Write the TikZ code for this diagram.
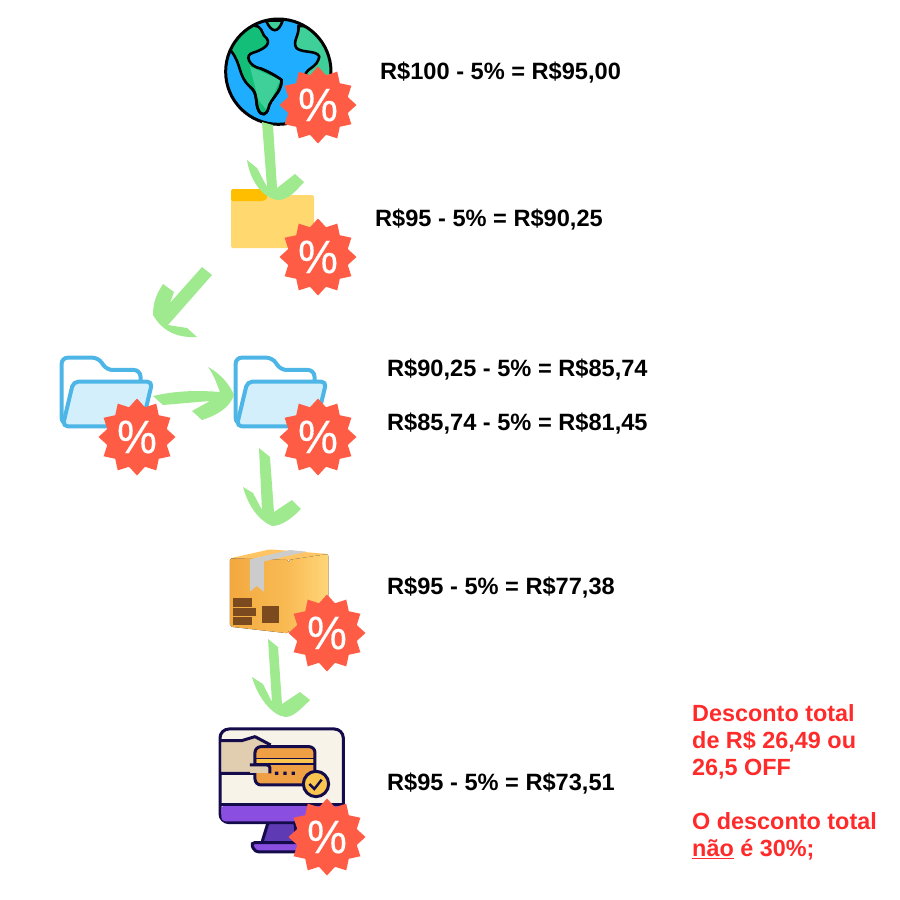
\documentclass[tikz,border=0pt]{standalone}
\usepackage{fontspec}
\setmainfont{Liberation Sans}
\newfontfamily\badgefont[FakeBold=0.3,FakeStretch=0.95]{Liberation Sans}
\usepackage{xcolor}
\usepackage{tikz}
\usetikzlibrary{positioning}
\usetikzlibrary{shapes.geometric}
\definecolor{badgered}{HTML}{FF5C45}
\definecolor{arrowgreen}{HTML}{9FE98F}
\definecolor{saleRed}{HTML}{FF2B2B}
\definecolor{navy}{HTML}{130B4A}
\definecolor{folderblue}{HTML}{4DB6E6}
\definecolor{folderpale}{HTML}{D3EFFC}
\definecolor{oceanblue}{HTML}{1FAEFF}
\definecolor{landgreen}{HTML}{3FD09A}
\definecolor{landdark}{HTML}{12BE78}
\definecolor{fileyellow}{HTML}{FFD970}
\definecolor{filetab}{HTML}{FFBE00}
\definecolor{boxfront}{HTML}{F2A93F}
\definecolor{boxfrontlight}{HTML}{F9BB55}
\definecolor{boxside}{HTML}{FFD678}
\definecolor{boxtop}{HTML}{FFC564}
\definecolor{boxmark}{HTML}{7B4A1E}
\definecolor{screencream}{HTML}{F8F3E8}
\definecolor{screenpurple}{HTML}{8A4FE0}
\definecolor{standpurple}{HTML}{5E3AB4}
\definecolor{cardorange}{HTML}{EFA044}
\definecolor{cardyellow}{HTML}{FBC64F}
\definecolor{handtan}{HTML}{E1CDB0}
\tikzset{
  badge/.style={star, star points=12, star point ratio=1.25, fill=badgered,
    minimum size=77pt, inner sep=0pt, text=white, font=\fontsize{47}{47}\badgefont},
  price/.style={anchor=west, inner sep=0pt, font=\fontsize{23.6}{26}\selectfont\bfseries},
  note/.style={anchor=north west, inner sep=0pt, align=left, text=saleRed,
    font=\fontsize{23.4}{27}\selectfont\bfseries},
  swoosh/.style={fill=arrowgreen},
  pics/openfolder/.style={code={
    \draw [folderblue, line width=4pt, fill=white, rounded corners=6pt] (65,492) -- (65,293)
    -- (175,293) -- (200,330) -- (300,330) -- (303,370) -- (303,492) -- cycle;
    \draw [folderblue, line width=4pt, fill=folderpale, rounded corners=5pt, line join=round]
    (68,499) -- (100,365) -- (337,365) -- (305,499) -- cycle;
  }}
}
\begin{document}
\begin{tikzpicture}[x=1pt, y=-1pt]

    \useasboundingbox [fill=white] (0, 0) rectangle (900, 900);

    \begin{scope}[shift={(200,0)}, scale=0.3333]
      \begin{scope}
        \clip (235, 215) circle (158);
        \fill [oceanblue] (77, 57) rectangle (393, 373);
        \fill [landdark, draw=black, line width=2.6pt, line join=round]
        (95, 155) .. controls (125, 195) and (115, 230) .. (150, 260)
        .. controls (175, 280) and (165, 310) .. (175, 330)
        .. controls (185, 350) and (200, 345) .. (205, 325)
        .. controls (210, 295) and (245, 280) .. (245, 240)
        .. controls (225, 225) and (195, 210) .. (180, 205)
        .. controls (150, 200) and (130, 165) .. (160, 158)
        .. controls (185, 150) and (215, 135) .. (200, 115)
        .. controls (185, 105) and (190, 90) .. (175, 80)
        -- (100, 60) -- (60, 120) -- cycle;
        \fill [landgreen] (150, 200) -- (240, 240) -- (200, 330) -- (175, 300) -- cycle;
        \draw [black, line width=2.6pt, line join=round]
        (180, 205) .. controls (195, 210) and (225, 225) .. (245, 240)
        .. controls (245, 280) and (210, 295) .. (205, 325)
        .. controls (200, 345) and (185, 350) .. (175, 330)
        .. controls (165, 310) and (175, 280) .. (150, 260);
        \fill [landgreen, draw=black, line width=2.6pt]
        (198, 62) .. controls (215, 100) and (235, 100) .. (248, 62) -- cycle;
        \fill [landgreen, draw=black, line width=2.6pt, line join=round]
        (295, 78) .. controls (300, 105) and (275, 125) .. (290, 145)
        .. controls (310, 160) and (350, 150) .. (358, 170)
        .. controls (350, 205) and (325, 200) .. (315, 225)
        -- (400, 260) -- (400, 80) -- cycle;
      \end{scope}
      \draw [black, line width=3pt] (235, 215) circle (158);
    \end{scope}

    \fill [fileyellow, rounded corners=1.5pt] (231, 195) rectangle (314, 248);
    \fill [filetab, rounded corners=1.5pt] (231, 189) -- (262, 189) -- (268, 197)
    -- (264, 201) -- (231, 201) -- cycle;

    \fill [swoosh] (262, 122) -- (273, 125) -- (277, 188) -- (295, 174) -- (304, 182)
    .. controls (295, 192) and (288, 200) .. (278, 200)
    .. controls (262, 198) and (250, 180) .. (247, 160)
    -- (257, 168) -- (267, 187) -- cycle;

    \fill [swoosh] (202, 267) -- (212, 275) -- (168, 325) -- (187, 328) -- (197, 337)
    .. controls (178, 338) and (163, 332) .. (153, 315)
    .. controls (153, 300) and (158, 292) .. (163, 284)
    -- (174, 292) -- (170, 303) -- cycle;

    \pic at (40, 260) [scale=0.3333] {openfolder};
    \pic at (214, 260) [scale=0.3333] {openfolder};

    \fill [swoosh] (153, 396) .. controls (175, 391) and (195, 390) .. (220, 392)
    .. controls (216, 382) and (214, 375) .. (208, 367)
    .. controls (220, 373) and (230, 385) .. (234, 395)
    .. controls (230, 408) and (215, 416) .. (202, 420)
    -- (192, 411) -- (210, 401) -- (163, 405) -- cycle;

    \fill [swoosh] (259, 448) -- (270, 457) -- (274, 512) -- (292, 500) -- (301, 509)
    .. controls (292, 518) and (282, 526) .. (272, 526)
    .. controls (258, 520) and (248, 505) .. (243, 487)
    -- (253, 493) -- (262, 510) -- cycle;

    \begin{scope}[shift={(200,530)}, scale=0.3333]
      \fill [boxtop, rounded corners=2pt] (90, 85) -- (210, 58) -- (385, 72) -- (265, 90) -- cycle;
      \fill [left color=boxfront, right color=boxfrontlight, rounded corners=2pt]
      (90, 85) -- (265, 90) -- (265, 310) -- (90, 290) -- cycle;
      \fill [left color=boxfrontlight, right color=boxside, rounded corners=2pt]
      (265, 90) -- (385, 72) -- (385, 250) -- (265, 310) -- cycle;
      \fill [gray!40] (150, 88) -- (270, 60) -- (320, 65) -- (192, 94) -- (192, 185)
      -- (170, 168) -- (150, 185) -- cycle;
      \fill [boxmark] (98, 205) rectangle (155, 230);
      \fill [boxmark] (100, 235) rectangle (168, 258);
      \fill [boxmark] (100, 260) rectangle (155, 285);
      \fill [boxmark] (187, 228) rectangle (238, 278);
    \end{scope}

    \fill [swoosh] (268, 639) -- (278, 647) -- (282, 704) -- (300, 692) -- (310, 700)
    .. controls (300, 710) and (293, 717) .. (285, 717)
    .. controls (272, 715) and (258, 698) .. (252, 677)
    -- (263, 684) -- (272, 702) -- cycle;

    \begin{scope}[shift={(200,530)}, scale=0.3333]
      \draw [navy, line width=3pt, fill=standpurple, rounded corners=3pt]
      (205, 875) -- (285, 875) -- (290, 940) -- (185, 940) -- cycle;
      \draw [navy, line width=3pt, fill=screenpurple, rounded corners=4pt]
      (152, 938) -- (335, 938) -- (335, 966) -- (165, 966) -- cycle;
      \draw [navy, line width=3pt, fill=screencream, rounded corners=9pt]
      (60, 597) rectangle (430, 878);
      \fill [screenpurple, rounded corners=4pt] (64, 826) rectangle (426, 874);
      \draw [navy, line width=3pt] (60, 824) -- (430, 824);
      \fill [handtan] (64, 632) -- (125, 632) -- (165, 620) -- (210, 645) -- (210, 730) -- (64, 730) -- cycle;
      \draw [navy, line width=3pt, line join=round]
      (60, 632) -- (125, 632) -- (165, 620) -- (212, 645)
      (60, 730) -- (210, 730);
      \draw [navy, line width=3pt, fill=cardorange, rounded corners=6pt]
      (165, 650) rectangle (345, 765);
      \fill [cardyellow] (170, 688) rectangle (340, 700);
      \draw [navy, line width=1.6pt] (167, 686) -- (343, 686) (167, 702) -- (343, 702);
      \fill [handtan] (150, 707) rectangle (208, 728);
      \draw [navy, line width=3pt, rounded corners=3pt]
      (150, 705) -- (210, 705) -- (210, 730);
      \fill [navy] (225, 725) rectangle (235, 735) (250, 725) rectangle (260, 735)
      (275, 725) rectangle (285, 735);
      \draw [navy, line width=3pt, fill=cardyellow] (348, 762) circle (38);
      \draw [navy, line width=2.4pt] (328, 762) -- (343, 777) -- (365, 749);
    \end{scope}

    \node [badge] (globebadge) at (318, 105) {\%};
    \node [badge] (filebadge) at (318, 257) {\%};
    \node [badge] (leftbadge) at (137, 437) {\%};
    \node [badge] (rightbadge) at (318, 437) {\%};
    \node [badge] (boxbadge) at (327, 633) {\%};
    \node [badge] (paybadge) at (327, 837) {\%};

    \node [price] (first) at (380, 73) {R\$100 - 5\% = R\$95,00};
    \node [price] (second) at (375, 220) {R\$95 - 5\% = R\$90,25};
    \node [price] (third) at (387, 370) {R\$90,25 - 5\% = R\$85,74};
    \node [price] (fourth) at (387, 424) {R\$85,74 - 5\% = R\$81,45};
    \node [price] (fifth) at (387, 588) {R\$95 - 5\% = R\$77,38};
    \node [price] (sixth) at (387, 784) {R\$95 - 5\% = R\$73,51};

    \node [note] (total) at (692, 704) {Desconto total\\de R\$ 26,49 ou\\26,5 OFF\\[27pt]
      O desconto total\\\underline{não} é 30\%;};

  \end{tikzpicture}
\end{document}
